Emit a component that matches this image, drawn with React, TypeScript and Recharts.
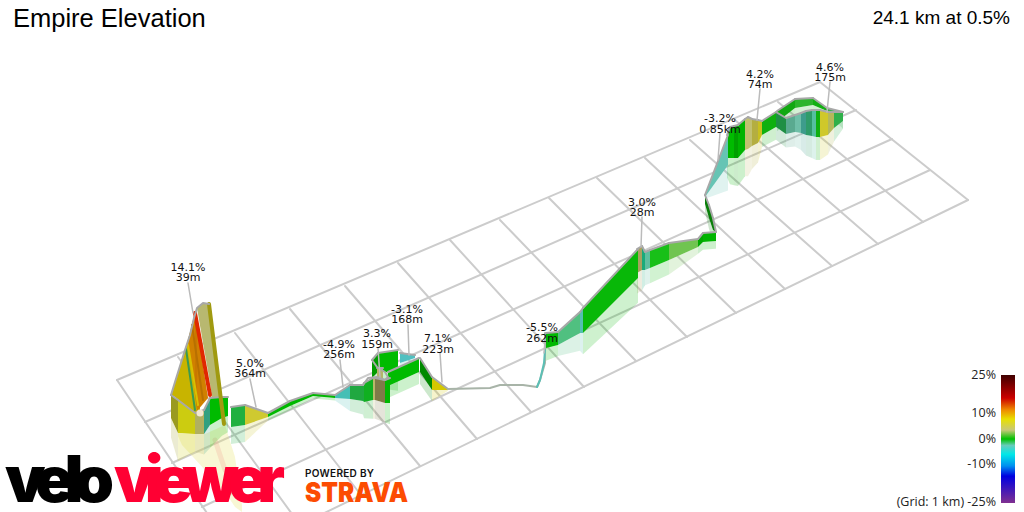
import React from 'react';
import { Area, ComposedChart, Line, ReferenceDot, XAxis, YAxis } from 'recharts';

const WIDTH = 1024;
const HEIGHT = 512;
const SANS = '"Liberation Sans", Arial, sans-serif';
const LABEL_FONT = '"DejaVu Sans", Verdana, sans-serif';

// grid, 1 km squares
const gridBackX = [117, 178, 235, 290, 345, 398, 450, 500, 549, 597, 645, 690, 735, 778, 820];
const gridBackY = [380, 357, 333, 309, 286, 263, 240, 220, 198, 178, 158, 140, 120, 102, 82];
const gridFrontX = [236, 300, 361, 420, 477, 531, 584, 636, 687, 736, 785, 832, 878, 923, 968];
const gridFrontY = [556, 525, 495, 466, 439, 412, 387, 361, 337, 313, 289, 266, 244, 222, 200];
const rowLeftX = [117, 145, 172, 202, 236];
const rowLeftY = [380, 422, 463, 507, 556];
const rowRightX = [820, 856, 892, 930, 968];
const rowRightY = [82, 110, 139, 170, 200];

// wall stations from the far end of the route back to the first climb, shade is for the span to the next station
const routeX = [843, 827, 813, 795, 777, 843, 834, 828, 820, 816, 812, 806, 801, 795, 786, 776, 762, 758, 752, 748, 745, 738, 734, 730, 727, 728, 705, 705, 709, 713, 716, 716, 703, 698, 669, 650, 645, 642, 637, 638, 583, 580, 558, 546, 448, 432, 415, 400, 398, 378, 372, 419, 388, 432, 420, 383, 377, 390, 385, 375, 373, 364, 363, 350, 335, 313, 290, 268, 245, 231];
const routeTop = [112, 108, 98, 99, 111, 112, 112, 112, 110, 110, 110, 111, 113, 115, 118, 112, 121, 120, 119, 117, 119, 125, 126, 127, 135, 135, 195, 195, 205, 218, 232, 232, 233, 239, 243, 250, 252, 246, 249, 249, 308, 312, 332, 333, 389, 377, 355, 353, 350, 353, 360, 358, 372, 377, 358, 368, 368, 378, 380, 378, 378, 383, 385, 385, 395, 393, 401, 413, 405, 407];
const routeBase = [121, 111, 105, 108, 122, 121, 128, 135, 137, 137, 136, 135, 133, 132, 134, 127, 135, 143, 146, 149, 150, 158, 158, 158, 158, 165, 197, 204, 218, 230, 232, 241, 242, 247, 260, 268, 270, 270, 273, 278, 333, 333, 345, 348, 390, 390, 358, 363, 372, 372, 378, 372, 386, 390, 372, 378, 378, 403, 403, 400, 400, 402, 401, 399, 398, 396, 406, 417, 425, 427];
const routeShade = ['#3ab050', '#12b012', '#2cb52c', '#12a812', null, '#2fb04a', '#b4b85a', '#cfc82a', '#10b010', '#55bfa0', '#2f9c6a', '#3e9c8c', '#6fbfa8', '#5aaa90', '#1f8f45', '#0fb00f', '#c8c020', '#b4ae40', '#c2c070', '#c2c070', '#00b400', '#00a000', '#00bb00', '#00b400', null, '#66c4b4', null, '#0a7f0a', '#0a7f0a', '#0a7f0a', null, '#00b400', '#00a800', '#70c450', '#18c018', '#5fbfa0', '#1aaa7a', '#a8a060', null, '#08b808', '#55bfb0', '#50c080', '#00b800', null, '#d4c800', null, '#50c0c0', null, '#00bb00', '#009a00', null, '#00bb00', null, '#008a00', null, '#b4b46a', null, '#00b800', '#7f7a48', '#b8b86a', '#10b020', '#20a840', '#20a840', '#45bfb5', '#00b800', '#00b800', '#00b800', '#cfc930', '#20b040', null];

// the tall first climb, painted as overlapping faces
const peakX = [171, 175, 185, 195, 200, 188, 195, 197, 208, 197, 203, 209, 212, 221];
const peakTop = [395, 382, 350, 315, 340, 340, 312, 325, 398, 308, 303, 304, 331, 397];
const peakBase = [395, 397, 405, 413, 413, 340, 395, 411, 398, 308, 343, 377, 397, 397];
const peakShade = ['#c8b400', '#c8b400', '#c8b400', '#c8b400', null, '#d08000', '#c87800', '#d08000', null, '#b8b870', '#b8b870', '#b8b870', '#b8b870', null];
const frontX = [228, 222, 210, 204, 195, 178, 171];
const frontTop = [397, 397, 398, 410, 413, 400, 395];
const frontBase = [416, 418, 425, 434, 434, 433, 418];
const frontShade = ['#00bb00', '#00bb00', '#30a080', '#b0b060', '#cccc10', '#9a9a20', null];

const glowX = [178, 182, 205, 225, 235, 242];
const glowTop = [433, 434, 434, 425, 457, 505];
const glowBase = [436, 445, 470, 492, 507, 512];

const ridgeX = [171, 175, 185, 190, 194, 197, 203, 209];
const ridgeY = [395, 382, 350, 335, 318, 308, 303, 304];
const stripeGreenX = [186, 195];
const stripeGreenY = [349, 410];
const stripeYellowX = [188, 198];
const stripeYellowY = [345, 405];
const stripeDarkX = [192, 203];
const stripeDarkY = [325, 400];
const stripeRedX = [195, 210];
const stripeRedY = [313, 395];
const stripeOliveX = [209, 224];
const stripeOliveY = [304, 424];
const glowRedX = [215, 225];
const glowRedY = [440, 470];
const kneeX = [200];
const kneeY = [413];

const tangleX = [372, 377, 385, 388, 385, 377, 368, 363];
const tangleY = [360, 367, 372, 377, 380, 377, 378, 385];
const thinX = [448, 490, 500, 523, 537, 540, 545, 545];
const thinY = [389, 388, 385, 385, 387, 380, 363, 333];
const thinTealX = [537, 540, 544, 545];
const thinTealY = [387, 380, 363, 350];

const gradeLabels = ['14.1%', '5.0%', '-4.9%', '3.3%', '-3.1%', '7.1%', '-5.5%', '3.0%', '-3.2%', '4.2%', '4.6%'];
const lengthLabels = ['39m', '364m', '256m', '159m', '168m', '223m', '262m', '28m', '0.85km', '74m', '175m'];
const labelX = [188, 250, 339, 377, 407, 438, 542, 642, 720, 760, 830];
const gradeY = [267, 363, 344, 333, 309, 338, 327, 202, 118, 74, 67];
const lengthY = [277, 373, 354, 344, 319, 349, 338, 212, 129, 84, 77];
const leaderTopX = [188, 250, 340, 378, 408, 440, 545, 642, 720, 760, 830];
const leaderTopY = [283, 379, 360, 348, 325, 353, 341, 217, 133, 89, 82];
const leaderEndX = [193, 256, 343, 380, 409, 442, 544, 641, 718, 757, 827];
const leaderEndY = [313, 407, 387, 377, 355, 382, 353, 247, 160, 120, 112];

const legendTicks = ['25%', '10%', '0%', '-10%', '(Grid: 1 km) -25%'];
const legendY = [375, 413, 439, 464, 502];
const legendOffsets = [0, 0.18, 0.27, 0.345, 0.43, 0.5, 0.55, 0.62, 0.71, 0.79, 1];
const legendColors = ['#3f0000', '#cc0000', '#ee8800', '#e8e000', '#c8c878', '#00c000', '#66ccbb', '#00e8e8', '#0090f0', '#0000e0', '#803090'];
const legendX = [1001, 1015];
const legendRange = [375, 503];

const twoPoints = (xs: number[], ys: number[]) => xs.map((x, i) => ({ x, y: ys[i] }));

const spans = (xs: number[], tops: number[], bases: number[], shades: (string | null)[]) =>
  xs.slice(0, -1).flatMap((x, i) => {
    if (!shades[i]) return [];
    return [{
      shade: shades[i] as string,
      wall: [{ x, range: [bases[i], tops[i]] }, { x: xs[i + 1], range: [bases[i + 1], tops[i + 1]] }],
      edge: [{ x, y: tops[i] }, { x: xs[i + 1], y: tops[i + 1] }],
      shadow: [
        { x, range: [bases[i] + (bases[i] - tops[i]) * 0.85, bases[i]] },
        { x: xs[i + 1], range: [bases[i + 1] + (bases[i + 1] - tops[i + 1]) * 0.85, bases[i + 1]] },
      ],
    }];
  });

const routeSpans = spans(routeX, routeTop, routeBase, routeShade);
const peakSpans = spans(peakX, peakTop, peakBase, peakShade);
const frontSpans = spans(frontX, frontTop, frontBase, frontShade);

const line = (key: string, data: object[], stroke: string, width: number, z: number, opacity = 1) => (
  <Line key={key} data={data} dataKey="y" type="linear" stroke={stroke} strokeWidth={width} strokeOpacity={opacity}
    strokeLinecap="round" strokeLinejoin="round" dot={false} activeDot={false} legendType="none"
    isAnimationActive={false} zIndex={z} />
);

const wall = (key: string, data: object[], fill: string, z: number, opacity = 1) => (
  <Area key={key} data={data} dataKey="range" type="linear" stroke="none" fill={fill} fillOpacity={opacity}
    dot={false} activeDot={false} legendType="none" isAnimationActive={false} zIndex={z} />
);

const tag = (key: string, x: number, y: number, value: string) => (
  <ReferenceDot key={key} x={x} y={y} r={0} stroke="none" fill="none" ifOverflow="visible" zIndex={5000}
    label={{ value, position: 'center', fontSize: 11, fontFamily: LABEL_FONT, fill: '#111' }} />
);

export default function App() {
  return (
    <div style={{ position: 'absolute', left: 0, top: 0, width: WIDTH, height: HEIGHT, overflow: 'hidden', background: '#fff' }}>
      <ComposedChart width={WIDTH} height={HEIGHT} margin={{ top: 0, right: 0, bottom: 0, left: 0 }}>
        <defs>
          <linearGradient id="gradeScale" x1="0" y1="0" x2="0" y2="1">
            {legendOffsets.map((offset, i) => (
              <stop key={offset} offset={offset} stopColor={legendColors[i]} />
            ))}
          </linearGradient>
        </defs>
        <XAxis type="number" dataKey="x" domain={[0, WIDTH]} allowDataOverflow hide />
        <YAxis type="number" domain={[0, HEIGHT]} allowDataOverflow reversed hide />

        {gridBackX.map((x, i) => line(`cross${i}`, twoPoints([x, gridFrontX[i]], [gridBackY[i], gridFrontY[i]]), '#cccccc', 2, 10))}
        {rowLeftX.map((x, i) => line(`row${i}`, twoPoints([x, rowRightX[i]], [rowLeftY[i], rowRightY[i]]), '#cccccc', 2, 10))}

        {wall('glow', glowX.map((x, i) => ({ x, range: [glowBase[i], glowTop[i]] })), '#e8e470', 20, 0.3)}
        {line('glowRed', twoPoints(glowRedX, glowRedY), '#f0a090', 5, 21, 0.25)}
        {[...routeSpans, ...frontSpans].map((s, i) => wall(`shadow${i}`, s.shadow, s.shade, 22, 0.2))}

        {routeSpans.map((s, i) => wall(`route${i}`, s.wall, s.shade, 100 + i * 2))}
        {routeSpans.map((s, i) => line(`routeEdge${i}`, s.edge, '#a8a8a8', 2, 101 + i * 2))}
        {peakSpans.map((s, i) => wall(`peak${i}`, s.wall, s.shade, 400 + i))}
        {line('stripeGreen', twoPoints(stripeGreenX, stripeGreenY), '#3a9a50', 2, 450)}
        {line('stripeYellow', twoPoints(stripeYellowX, stripeYellowY), '#d8c000', 2, 451)}
        {line('stripeDark', twoPoints(stripeDarkX, stripeDarkY), '#b87000', 2, 452)}
        {line('stripeRed', twoPoints(stripeRedX, stripeRedY), '#e02800', 4, 453)}
        {frontSpans.map((s, i) => wall(`front${i}`, s.wall, s.shade, 460 + i * 2))}
        {frontSpans.map((s, i) => line(`frontEdge${i}`, s.edge, '#a8a8a8', 2, 461 + i * 2))}
        {line('stripeOlive', twoPoints(stripeOliveX, stripeOliveY), '#a09a10', 4, 490)}
        {line('ridge', twoPoints(ridgeX, ridgeY), '#a8a8a8', 2, 491)}
        {line('tangle', twoPoints(tangleX, tangleY), '#a8a8a8', 2, 492)}
        {line('thin', twoPoints(thinX, thinY), '#a8b4a8', 2, 493)}
        {line('thinTeal', twoPoints(thinTealX, thinTealY), '#5bbfb5', 2, 494)}
        <ReferenceDot x={kneeX[0]} y={kneeY[0]} r={3.5} fill="#f2e8d2" stroke="none" ifOverflow="visible" zIndex={495} />

        {leaderTopX.map((x, i) => line(`leader${i}`, twoPoints([x, leaderEndX[i]], [leaderTopY[i], leaderEndY[i]]), '#bbbbbb', 1.5, 600))}
        {wall('scale', legendX.map((x) => ({ x, range: [legendRange[1], legendRange[0]] })), 'url(#gradeScale)', 700)}
        {gradeLabels.map((value, i) => tag(`grade${i}`, labelX[i], gradeY[i], value))}
        {lengthLabels.map((value, i) => tag(`length${i}`, labelX[i], lengthY[i], value))}
      </ComposedChart>

      <div style={{ position: 'absolute', left: 13, top: 4, fontFamily: SANS, fontSize: 25.5, color: '#000' }}>Empire Elevation</div>
      <div style={{ position: 'absolute', right: 14, top: 7, fontFamily: SANS, fontSize: 19, color: '#000' }}>24.1 km at 0.5%</div>
      {legendTicks.map((value, i) => (
        <div key={value} style={{ position: 'absolute', right: 28, top: legendY[i] - 9, fontFamily: '"Open Sans", sans-serif', fontSize: 12.5, lineHeight: '18px', color: '#222', whiteSpace: 'nowrap' }}>
          {value}
        </div>
      ))}
      <svg width={WIDTH} height={HEIGHT} style={{ position: 'absolute', left: 0, top: 0 }}>
        <text x={5} y={502} fontFamily="Inter, sans-serif" fontWeight={900} fontSize={64} textLength={109} lengthAdjust="spacing" fill="#000">velo</text>
        <text x={114} y={502} fontFamily="Inter, sans-serif" fontWeight={900} fontSize={64} textLength={171} lengthAdjust="spacing" fill="#ff0033">viewer</text>
        <text x={305} y={477} fontFamily="Inter, sans-serif" fontWeight={600} fontSize={10} textLength={69} fill="#111">POWERED BY</text>
        <text x={305} y={502} fontFamily="Inter, sans-serif" fontWeight={900} fontSize={27.5} textLength={103} lengthAdjust="spacingAndGlyphs" fill="#fc4c02">STRAVA</text>
      </svg>
    </div>
  );
}
